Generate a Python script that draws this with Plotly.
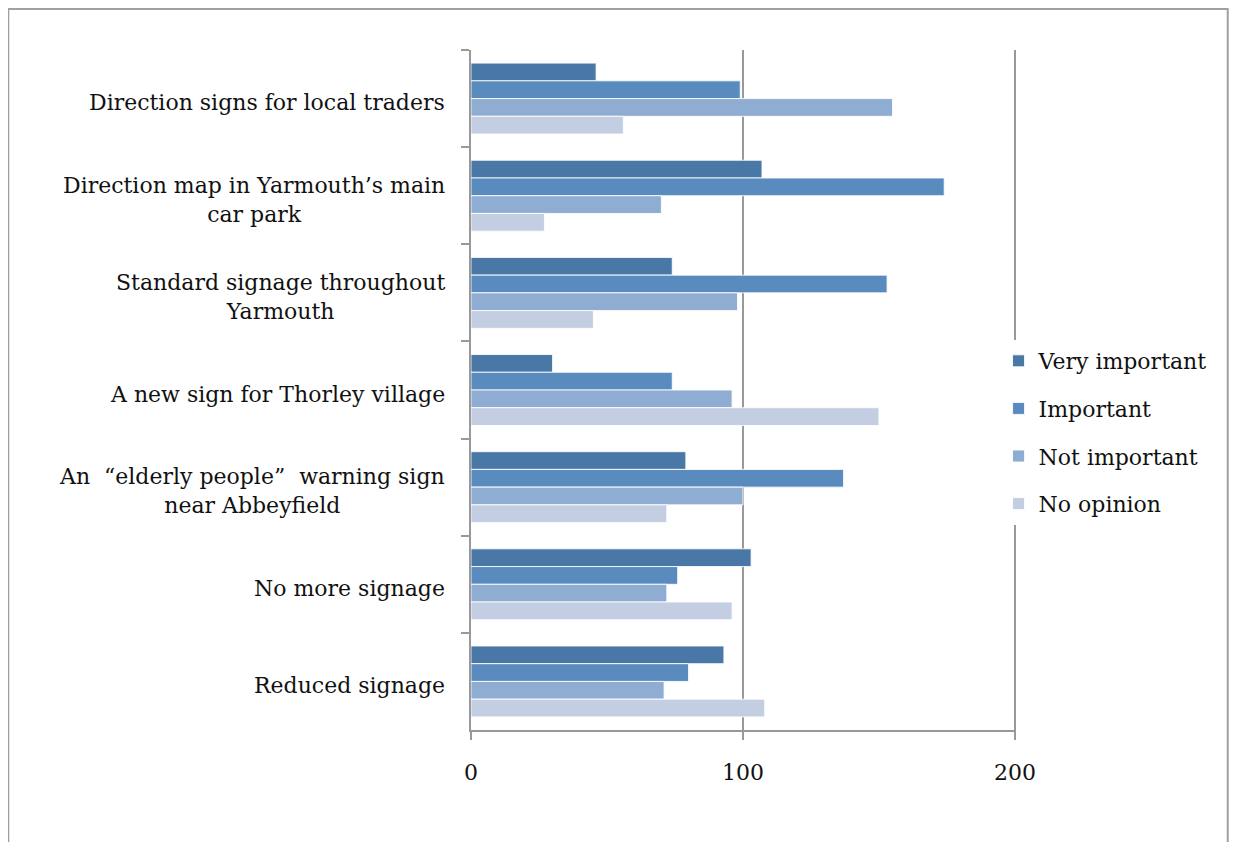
import plotly.graph_objects as go

categories = [
    "Direction signs for local traders",
    "Direction map in Yarmouth’s main<br>car park",
    "Standard signage throughout<br>Yarmouth",
    "A new sign for Thorley village",
    "An  “elderly people”  warning sign<br>near Abbeyfield",
    "No more signage",
    "Reduced signage",
]
very_important = [46, 107, 74, 30, 79, 103, 93]
important = [99, 174, 153, 74, 137, 76, 80]
not_important = [155, 70, 98, 96, 100, 72, 71]
no_opinion = [56, 27, 45, 150, 72, 96, 108]

series_names = ["Very important", "Important", "Not important", "No opinion"]
series_values = [very_important, important, not_important, no_opinion]
series_colors = ["#4A78A6", "#5A8BBF", "#8FADD2", "#C3CEE3"]

x_ticks = [0, 100, 200]

FONT = "DejaVu Serif"
GRAY = "#999999"

fig = go.Figure()
for name, vals, col in zip(series_names, series_values, series_colors):
    fig.add_trace(go.Bar(
        y=categories, x=vals, name=name, orientation="h",
        marker=dict(color=col, line=dict(color="rgba(255,255,255,0.85)", width=1)),
        legendgroup=name,
    ))

for cat in categories:
    fig.add_annotation(
        x=0, y=cat, xref="paper", yref="y", text=cat, showarrow=False,
        xanchor="right", yanchor="middle", align="center", xshift=-24, yshift=-4,
        font=dict(family=FONT, size=22, color="#111111"),
    )

fig.add_shape(type="rect", xref="paper", yref="paper",
              x0=-0.849, x1=1.3885, y0=-0.25, y1=1.0603,
              line=dict(color="#a0a0a0", width=2), layer="below")

fig.update_layout(
    width=1221, height=834,
    margin=dict(l=463, r=213, t=42, b=112),
    paper_bgcolor="white", plot_bgcolor="white",
    barmode="group", bargap=0.27, bargroupgap=0,
    font=dict(family=FONT, size=22, color="#111111"),
    showlegend=True,
    legend=dict(
        x=0.968, xanchor="left", y=0.5735, yanchor="top",
        bgcolor="white", traceorder="grouped", tracegroupgap=16,
        font=dict(family=FONT, size=22, color="#111111"),
        itemwidth=30,
    ),
    xaxis=dict(
        range=[0, 200.4], tickvals=x_ticks, ticktext=[str(v) for v in x_ticks],
        showgrid=True, gridcolor=GRAY, gridwidth=2,
        showline=True, linecolor=GRAY, linewidth=2,
        ticks="outside", ticklen=8, tickcolor=GRAY, tickwidth=2,
        zeroline=False, ticklabelstandoff=14,
        tickfont=dict(family=FONT, size=22, color="#111111"),
    ),
    yaxis=dict(
        autorange="reversed", showticklabels=False,
        showline=True, linecolor=GRAY, linewidth=2,
        ticks="outside", ticklen=8, tickcolor=GRAY, tickwidth=2,
        tickson="boundaries", showgrid=False, zeroline=False,
    ),
)

fig.write_html("out.html")
